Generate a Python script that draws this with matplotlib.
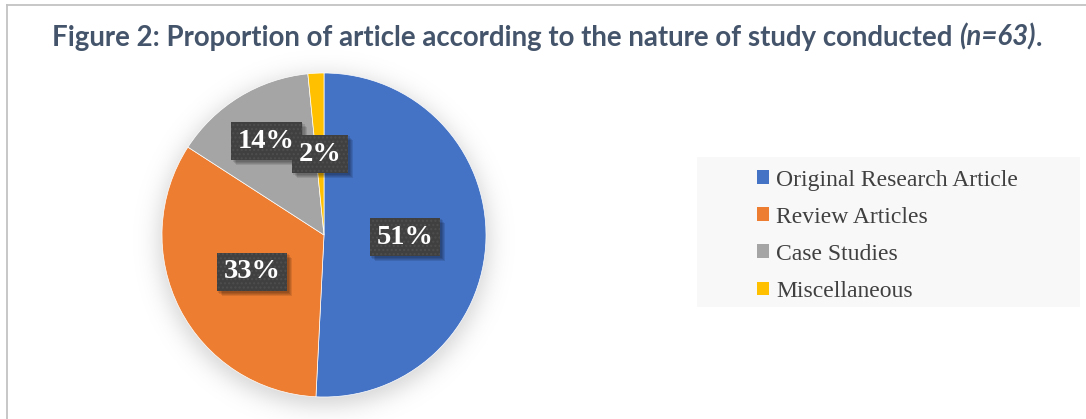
import numpy as np
import matplotlib
matplotlib.use("Agg")
import matplotlib.pyplot as plt
from matplotlib import patheffects as pe
from matplotlib.lines import Line2D
from matplotlib.patches import Rectangle

# Study types and number of articles (n = 63)
categories = ["Original Research Article", "Review Articles", "Case Studies", "Miscellaneous"]
article_counts = [32, 21, 9, 1]
slice_colors = ["#4472C4", "#ED7D31", "#A5A5A5", "#FFC000"]

title_main = "Figure 2: Proportion of article according to the nature of study conducted "
title_n = "(n=63)"
title_end = "."

W, H = 1086, 419
fig = plt.figure(figsize=(W / 100, H / 100), dpi=100)
fig.patch.set_facecolor("white")

# frame lines along the top and left edges
frame_kw = dict(transform=fig.transFigure, color="#c3c3c3", linewidth=1.3)
fig.add_artist(Line2D([7 / W, 7 / W], [0, (H - 5) / H], **frame_kw))
fig.add_artist(Line2D([7 / W, 1], [(H - 5) / H, (H - 5) / H], **frame_kw))

# pie axes: centre and radius in pixels
cx, cy, R = 324, H - 235, 162
lim = 1.3
side = 2 * lim * R
ax = fig.add_axes([(cx - side / 2) / W, (cy - side / 2) / H, side / W, side / H])

# soft drop shadow behind the pie
n = 700
g = np.linspace(-lim, lim, n)
X, Y = np.meshgrid(g, g)
r = np.hypot(X, Y + 0.035)
soft = 0.5 * (1 - np.tanh((r - 1.02) / 0.085))
shadow = np.zeros((n, n, 4))
shadow[..., 3] = 0.17 * soft
ax.imshow(shadow, extent=(-lim, lim, -lim, lim), origin="lower", zorder=0,
          interpolation="bilinear")

wedges, texts, autotexts = ax.pie(
    article_counts, colors=slice_colors, startangle=90, counterclock=False,
    autopct="%1.0f%%", pctdistance=0.5,
    wedgeprops=dict(edgecolor="white", linewidth=0.5, zorder=2),
    textprops=dict(family="Liberation Serif", weight="bold", size=20.5, color="white"),
)
ax.set_xlim(-lim, lim)
ax.set_ylim(-lim, lim)
ax.set_aspect("equal")
ax.axis("off")

# data label boxes: dark, dotted, with a soft offset shadow
label_dist = [0.5, 0.5, 0.68, 0.5]
box_shadow = [pe.SimplePatchShadow(offset=(o, -o), shadow_rgbFace="black", alpha=0.10, hatch=None)
              for o in (1.2, 2.0, 2.8, 3.6)]
for w, t, d in zip(wedges, autotexts, label_dist):
    mid = np.deg2rad((w.theta1 + w.theta2) / 2)
    t.set_position((d * np.cos(mid), d * np.sin(mid)))
    t.set_zorder(5)
    t.set_bbox(dict(boxstyle="square,pad=0.24", facecolor="#404040",
                    edgecolor="#4e4e4e", linewidth=0, hatch="...."))
    t.get_bbox_patch().set_path_effects(box_shadow + [pe.Normal()])

# legend panel
fig.add_artist(Rectangle((697 / W, (H - 307) / H), (1080 - 697) / W, 150 / H,
                         transform=fig.transFigure, facecolor="#f8f8f8",
                         edgecolor="none", zorder=0))
leg = fig.legend(wedges, categories, loc="upper left",
                 bbox_to_anchor=(757 / W, (H - 169.5) / H),
                 frameon=False, prop=dict(family="Liberation Serif", size=17),
                 handlelength=0.5, handleheight=0.5, handletextpad=0.3,
                 labelspacing=0.68, borderpad=0, borderaxespad=0)
for t in leg.get_texts():
    t.set_color("#404040")
for h in leg.legend_handles:
    h.set_linewidth(0)

# title composed of bold and bold-italic runs, centred as one line
title_kw = dict(family="Lato", weight="bold", size=19.9, color="#44546A", va="baseline")
renderer = fig.canvas.get_renderer()
parts = [(title_main, "normal"), (title_n, "italic"), (title_end, "normal")]
pieces = [fig.text(0, 0, s, style=st, **title_kw) for s, st in parts]
widths = [p.get_window_extent(renderer).width for p in pieces]
x = 547.5 - sum(widths) / 2
for p, wpx in zip(pieces, widths):
    p.set_position((x / W, (H - 46) / H))
    x += wpx

fig.savefig("out.png", dpi=100, facecolor="white")
